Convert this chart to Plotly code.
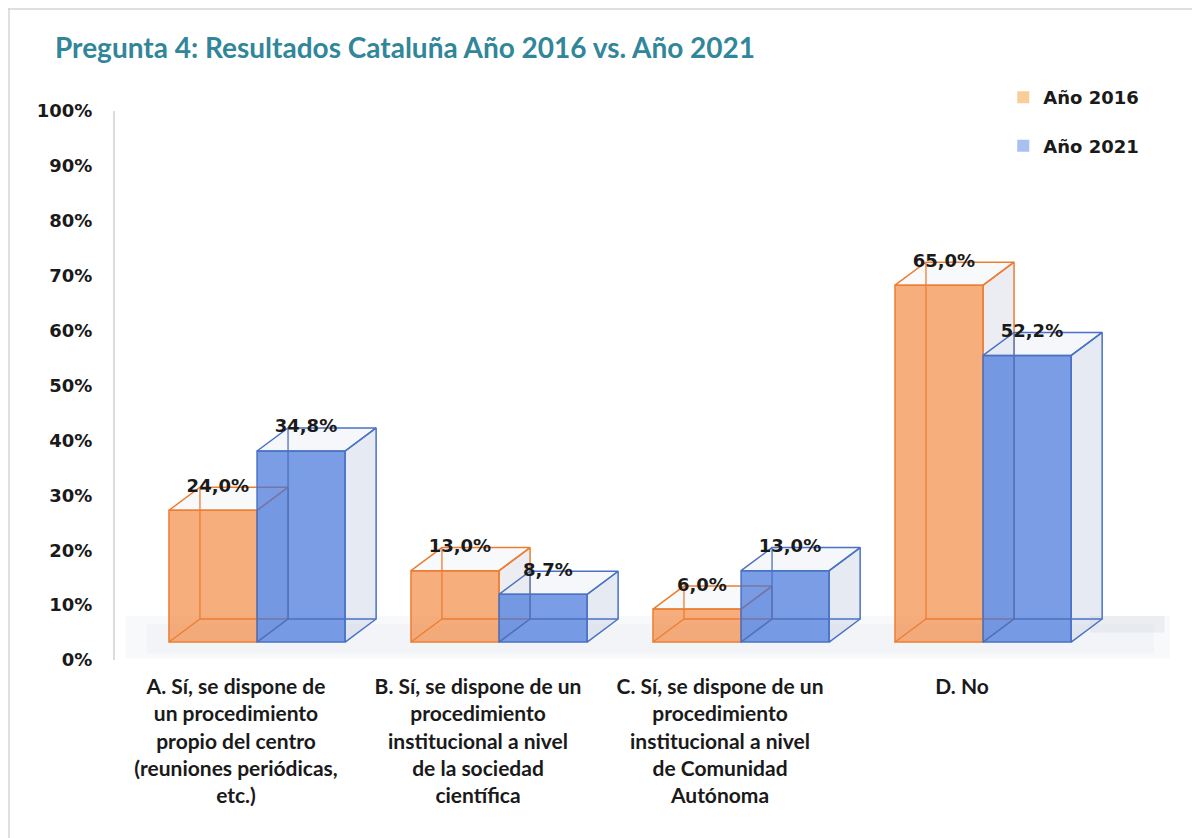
import plotly.graph_objects as go

# ---------------- data ----------------
categories = [
    "A. Sí, se dispone de<br>un procedimiento<br>propio del centro<br>(reuniones periódicas,<br>etc.)",
    "B. Sí, se dispone de un<br>procedimiento<br>institucional a nivel<br>de la sociedad<br>científica",
    "C. Sí, se dispone de un<br>procedimiento<br>institucional a nivel<br>de Comunidad<br>Autónoma",
    "D. No",
]
series_names = ["Año 2016", "Año 2021"]
values_2016 = [24.0, 13.0, 6.0, 65.0]
values_2021 = [34.8, 8.7, 13.0, 52.2]
y_ticks = [0, 10, 20, 30, 40, 50, 60, 70, 80, 90, 100]
title_text = "Pregunta 4: Resultados Cataluña Año 2016 vs. Año 2021"

# ---------------- style ----------------
BAR_W = 0.364      # width of each bar (category units)
DX = 0.128         # 3D depth offset along x (category units)
DY = 4.2           # 3D depth offset along y (percent units)
X_SHIFT = 0.087    # perspective shift of bars vs. category labels
Y_SHIFT = 3.27     # perspective lift of bar base vs. 0% label
X_RANGE = [-0.5, 3.88]
Y_RANGE = [0, 100]

FONT_NUM = "DejaVu Sans"
FONT_TXT = "Lato"

series_style = [
    dict(name=series_names[0], values=values_2016, fill="rgba(242,130,55,0.65)",
         edge="#ED7D31", offset=-BAR_W, ax="2", legend="rgba(247,200,140,0.9)",
         side="rgba(205,210,222,0.40)", top="rgba(232,234,240,0.30)"),
    dict(name=series_names[1], values=values_2021, fill="rgba(66,115,218,0.70)",
         edge="#4A72C4", offset=0.0, ax="3", legend="rgba(160,185,240,0.9)",
         side="rgba(200,208,228,0.45)", top="rgba(228,232,244,0.35)"),
]

positions = list(range(len(categories)))

fig = go.Figure()

# invisible trace to anchor the label axes
fig.add_trace(go.Scatter(x=positions, y=[0] * len(positions), mode="markers",
                         marker=dict(opacity=0), showlegend=False, hoverinfo="skip"))

for s in series_style:
    xa, ya = "x" + s["ax"], "y" + s["ax"]
    vals = s["values"]
    # front faces
    fig.add_trace(go.Bar(
        x=positions, y=vals, name=s["name"], width=BAR_W, offset=s["offset"],
        marker=dict(color=s["fill"], line=dict(color=s["edge"], width=1.5)),
        xaxis=xa, yaxis=ya, hoverinfo="skip", showlegend=False,
    ))
    side_x, side_y, top_x, top_y, hid_x, hid_y = [], [], [], [], [], []
    lab_x, lab_y, lab_t = [], [], []
    for p, v in zip(positions, vals):
        x0 = p + s["offset"]
        x1 = x0 + BAR_W
        top_x += [x0, x0 + DX, x1 + DX, x1, x0, None]
        top_y += [v, v + DY, v + DY, v, v, None]
        side_x += [x1, x1 + DX, x1 + DX, x1, x1, None]
        side_y += [0, DY, v + DY, v, 0, None]
        hid_x += [x0 + DX, x0 + DX, None, x0 + DX, x1 + DX, None, x0, x0 + DX, None]
        hid_y += [DY, v + DY, None, DY, DY, None, 0, DY, None]
        lab_x.append(x0 + BAR_W / 2 + 0.02)
        lab_y.append(v + DY)
        lab_t.append(f"{v:.1f}".replace(".", ",") + "%")
    fig.add_trace(go.Scatter(x=side_x, y=side_y, mode="lines", fill="toself",
                             fillcolor=s["side"], line=dict(color=s["edge"], width=1.5),
                             xaxis=xa, yaxis=ya, showlegend=False, hoverinfo="skip"))
    fig.add_trace(go.Scatter(x=top_x, y=top_y, mode="lines", fill="toself",
                             fillcolor=s["top"], line=dict(color=s["edge"], width=1.5),
                             xaxis=xa, yaxis=ya, showlegend=False, hoverinfo="skip"))
    fig.add_trace(go.Scatter(x=hid_x, y=hid_y, mode="lines",
                             line=dict(color=s["edge"], width=1.3),
                             xaxis=xa, yaxis=ya, showlegend=False, hoverinfo="skip"))
    fig.add_trace(go.Scatter(x=lab_x, y=lab_y, mode="text", text=lab_t,
                             textposition="middle center",
                             textfont=dict(family=FONT_NUM, size=18, color="#1a1a1a", weight="bold"),
                             xaxis=xa, yaxis=ya, showlegend=False, hoverinfo="skip",
                             cliponaxis=False))
    # legend entry (pale swatch, as in the original)
    fig.add_trace(go.Scatter(x=[None], y=[None], mode="markers", name=s["name"],
                             marker=dict(symbol="square", size=12, color=s["legend"]),
                             legendgroup=s["name"], xaxis=xa, yaxis=ya, hoverinfo="skip"))

bar_x_range = [X_RANGE[0] - X_SHIFT, X_RANGE[1] - X_SHIFT]
bar_y_range = [Y_RANGE[0] - Y_SHIFT, Y_RANGE[1] - Y_SHIFT]
hidden_axis = dict(visible=False, showgrid=False, zeroline=False, fixedrange=True)

fig.update_layout(
    width=1200, height=838,
    margin=dict(l=107, r=33, t=103, b=186),
    paper_bgcolor="white", plot_bgcolor="white",
    hovermode=False,
    title=dict(text=title_text, x=47 / 1200, xref="container", xanchor="left",
               y=1 - 40 / 838, yref="container", yanchor="middle",
               font=dict(family=FONT_TXT, size=28, color="#31869A", weight="bold")),
    xaxis=dict(range=X_RANGE, tickvals=positions, ticktext=categories,
               showgrid=False, zeroline=False, showline=False, ticks="",
               ticklabelstandoff=12,
               tickfont=dict(family=FONT_TXT, size=21, color="#1a1a1a", weight="bold")),
    yaxis=dict(range=Y_RANGE, tickvals=y_ticks, ticktext=[f"{t}%" for t in y_ticks],
               showgrid=False, zeroline=False, showline=True, linecolor="#dcdcdc",
               linewidth=2, ticks="", ticklabelstandoff=17,
               tickfont=dict(family=FONT_NUM, size=18, color="#1a1a1a", weight="bold")),
    xaxis2=dict(overlaying="x", anchor="y2", range=bar_x_range, **hidden_axis),
    yaxis2=dict(overlaying="y", anchor="x2", range=bar_y_range, **hidden_axis),
    xaxis3=dict(overlaying="x", anchor="y3", range=bar_x_range, **hidden_axis),
    yaxis3=dict(overlaying="y", anchor="x3", range=bar_y_range, **hidden_axis),
    legend=dict(x=0.838, y=1.058, xanchor="left", yanchor="top",
                bgcolor="rgba(0,0,0,0)", tracegroupgap=22, itemwidth=30,
                font=dict(family=FONT_NUM, size=18, color="#1a1a1a", weight="bold")),
    shapes=[
        # floor shadow (soft, layered)
        dict(type="rect", xref="paper", yref="y", x0=0.01, x1=0.995, y0=0.3, y1=8.0,
             fillcolor="rgba(225,229,236,0.22)", line=dict(width=0), layer="below"),
        dict(type="rect", xref="paper", yref="y", x0=0.03, x1=0.98, y0=1.2, y1=6.5,
             fillcolor="rgba(222,226,233,0.22)", line=dict(width=0), layer="below"),
        dict(type="rect", xref="paper", yref="y", x0=0.92, x1=0.99, y0=5.0, y1=8.0,
             fillcolor="rgba(200,204,210,0.25)", line=dict(width=0), layer="below"),
        # chart frame (top and left edges)
        dict(type="line", xref="paper", yref="paper", x0=-107 / 1060, x1=1 + 33 / 1060,
             y0=1 + 102 / 549, y1=1 + 102 / 549, line=dict(color="#d6d6d6", width=1.5),
             layer="below"),
        dict(type="line", xref="paper", yref="paper", x0=-106 / 1060, x1=-106 / 1060,
             y0=-186 / 549, y1=1 + 103 / 549, line=dict(color="#d6d6d6", width=1.5),
             layer="below"),
    ],
)

fig.write_html("out.html")
